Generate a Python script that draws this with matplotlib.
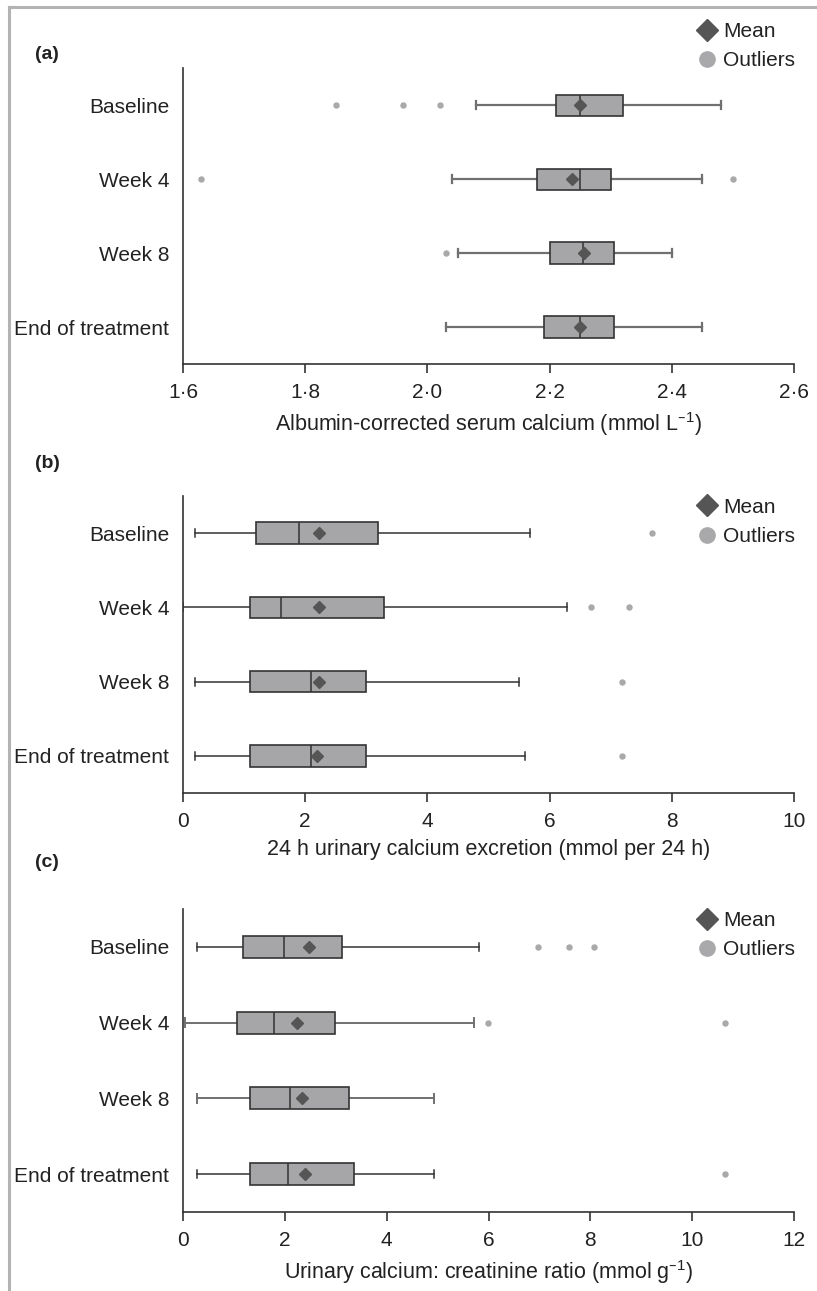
import matplotlib
matplotlib.use("Agg")
from matplotlib import pyplot as plt
from matplotlib.lines import Line2D
from matplotlib.ticker import FuncFormatter
import numpy as np

plt.rcParams['font.family'] = ['Liberation Sans', 'DejaVu Sans']
plt.rcParams['mathtext.default'] = 'regular'

labels = ['Baseline', 'Week 4', 'Week 8', 'End of treatment']

# (a) albumin-corrected serum calcium, mmol/L
ca_lo = [2.08, 2.04, 2.05, 2.03]
ca_q1 = [2.21, 2.18, 2.20, 2.19]
ca_med = [2.25, 2.25, 2.255, 2.25]
ca_q3 = [2.32, 2.30, 2.305, 2.305]
ca_hi = [2.48, 2.45, 2.40, 2.45]
ca_mean = [2.25, 2.237, 2.256, 2.25]
ca_out = [[1.85, 1.96, 2.02], [1.63, 2.50], [2.03], []]

# (b) 24 h urinary calcium excretion, mmol per 24 h
ue_lo = [0.2, 0.0, 0.2, 0.2]
ue_q1 = [1.2, 1.09, 1.09, 1.09]
ue_med = [1.9, 1.6, 2.09, 2.09]
ue_q3 = [3.19, 3.29, 2.99, 2.99]
ue_hi = [5.68, 6.28, 5.49, 5.59]
ue_mean = [2.22, 2.22, 2.22, 2.20]
ue_out = [[7.68], [6.68, 7.29], [7.18], [7.18]]

# (c) urinary calcium : creatinine ratio, mmol/g
uc_lo = [0.27, 0.04, 0.27, 0.27]
uc_q1 = [1.18, 1.06, 1.32, 1.31]
uc_med = [1.98, 1.79, 2.10, 2.06]
uc_q3 = [3.13, 2.98, 3.26, 3.35]
uc_hi = [5.81, 5.72, 4.93, 4.93]
uc_mean = [2.48, 2.24, 2.34, 2.40]
uc_out = [[6.97, 7.57, 8.08], [5.99, 10.64], [], [10.64]]

BOX_FILL = '#a6a6a9'
DARK = '#333333'
GREY = '#707070'
MEAN_C = '#555555'
OUT_C = '#a9a9ab'
TXT = '#222222'

panels = [
    dict(tag='(a)', lo=ca_lo, q1=ca_q1, med=ca_med, q3=ca_q3, hi=ca_hi, mean=ca_mean, out=ca_out,
         xlim=(1.6, 2.6), ticks=np.arange(1.6, 2.61, 0.2), dec=True,
         wcols=[GREY, GREY, GREY, GREY], wlws=[1.6, 1.6, 1.6, 1.6],
         xlabel='Albumin-corrected serum calcium (mmol L$^{\u2013 1}$)',
         rect=[0.224, 0.718, 0.748, 0.229], tagy=0.958, legy=0.991),
    dict(tag='(b)', lo=ue_lo, q1=ue_q1, med=ue_med, q3=ue_q3, hi=ue_hi, mean=ue_mean, out=ue_out,
         xlim=(0, 10), ticks=np.arange(0, 11, 2), dec=False,
         wcols=[DARK, DARK, DARK, DARK], wlws=[1.1, 1.1, 1.1, 1.1],
         xlabel='24 h urinary calcium excretion (mmol per 24 h)',
         rect=[0.224, 0.3857, 0.748, 0.2301], tagy=0.641, legy=0.6225),
    dict(tag='(c)', lo=uc_lo, q1=uc_q1, med=uc_med, q3=uc_q3, hi=uc_hi, mean=uc_mean, out=uc_out,
         xlim=(0, 12), ticks=np.arange(0, 13, 2), dec=False,
         wcols=[DARK, GREY, GREY, DARK], wlws=[1.1, 1.4, 1.4, 1.1],
         xlabel='Urinary calcium: creatinine ratio (mmol g$^{\u2013 1}$)',
         rect=[0.224, 0.0612, 0.748, 0.2347], tagy=0.332, legy=0.3025),
]

fig = plt.figure(figsize=(8.17, 12.91), dpi=100)

for p in panels:
    ax = fig.add_axes(p['rect'])
    stats = []
    for i, lab in enumerate(labels):
        stats.append(dict(label=lab, whislo=p['lo'][i], q1=p['q1'][i], med=p['med'][i],
                          q3=p['q3'][i], whishi=p['hi'][i], mean=p['mean'][i],
                          fliers=p['out'][i]))
    parts = ax.bxp(stats, positions=range(len(labels)), orientation='horizontal', widths=0.29,
                   patch_artist=True, showmeans=True, capwidths=0.11,
                   boxprops=dict(facecolor=BOX_FILL, edgecolor=DARK, linewidth=1.2),
                   medianprops=dict(color=DARK, linewidth=1.1),
                   meanprops=dict(marker='D', markerfacecolor=MEAN_C, markeredgecolor=MEAN_C,
                                  markersize=6.5),
                   flierprops=dict(marker='o', markerfacecolor=OUT_C, markeredgecolor=OUT_C,
                                   markersize=3.6))
    # whiskers and caps come in pairs per box
    for i in range(len(labels)):
        for ln in parts['whiskers'][2 * i:2 * i + 2] + parts['caps'][2 * i:2 * i + 2]:
            ln.set_color(p['wcols'][i])
            ln.set_linewidth(p['wlws'][i])
            ln.set_zorder(1.5)
    ax.set_ylim(3.5, -0.5)
    ax.set_xlim(*p['xlim'])
    ax.set_xticks(p['ticks'])
    if p['dec']:
        ax.xaxis.set_major_formatter(FuncFormatter(lambda v, pos: f'{v:.1f}'.replace('.', '\u00b7')))
    else:
        ax.xaxis.set_major_formatter(FuncFormatter(lambda v, pos: f'{v:.0f}'))
    ax.set_yticks(range(len(labels)))
    ax.set_yticklabels(labels)
    ax.tick_params(axis='y', length=0, pad=10, labelsize=15, labelcolor=TXT)
    ax.tick_params(axis='x', length=6.5, width=1.2, color=DARK, pad=7, labelsize=15, labelcolor=TXT)
    for s in ['top', 'right']:
        ax.spines[s].set_visible(False)
    for s in ['left', 'bottom']:
        ax.spines[s].set_color(DARK)
        ax.spines[s].set_linewidth(1.2)
    ax.set_xlabel(p['xlabel'], fontsize=15.5, color=TXT, labelpad=6)

    fig.text(0.043, p['tagy'], p['tag'], fontsize=14, fontweight='bold', color=TXT,
             va='center', ha='left')

    handles = [Line2D([], [], linestyle='none', marker='D', markersize=11,
                      markerfacecolor=MEAN_C, markeredgecolor=MEAN_C),
               Line2D([], [], linestyle='none', marker='o', markersize=11,
                      markerfacecolor=OUT_C, markeredgecolor=OUT_C)]
    fig.legend(handles, ['Mean', 'Outliers'], loc='upper left', bbox_to_anchor=(0.8415, p['legy']),
               frameon=False, fontsize=15, handlelength=0.9, handletextpad=0.3,
               labelspacing=0.5, borderpad=0, labelcolor=TXT)

# gray frame along the top and left edge
fig.add_artist(Line2D([0.011, 1.0], [0.9945, 0.9945], color='#b3b3b3', linewidth=2.2))
fig.add_artist(Line2D([0.011, 0.011], [0.0, 0.9945], color='#b3b3b3', linewidth=2.2))

fig.savefig('out.png', dpi=100)
